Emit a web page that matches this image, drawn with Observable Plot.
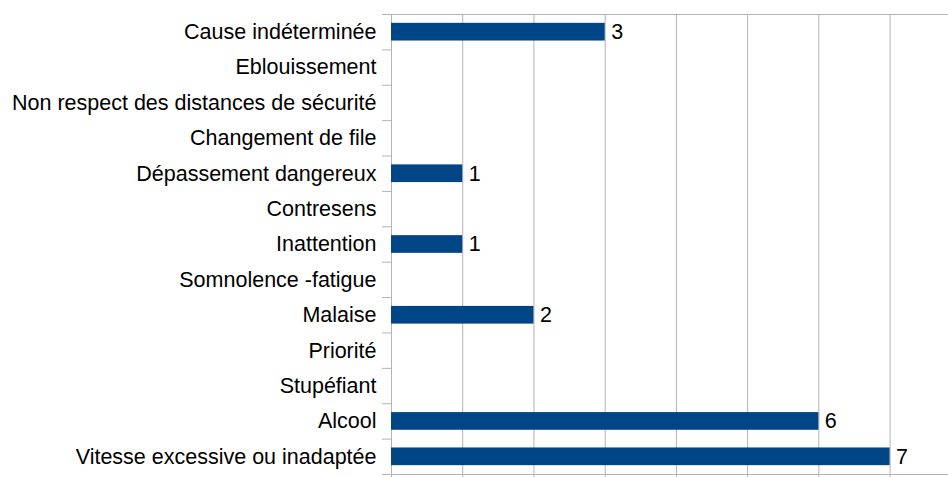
<!DOCTYPE html>
<html>
<head>
<meta charset="utf-8">
<script src="https://cdn.jsdelivr.net/npm/d3@7"></script>
<script src="https://cdn.jsdelivr.net/npm/@observablehq/plot@0.6"></script>
<style>
  html, body { margin: 0; padding: 0; background: #fff; }
  svg { display: block; font-family: "Liberation Sans", Arial, sans-serif; }
</style>
</head>
<body>
<div id="chart"></div>
<script>
const categories = ["Cause indéterminée", "Eblouissement", "Non respect des distances de sécurité", "Changement de file", "Dépassement dangereux", "Contresens", "Inattention", "Somnolence -fatigue", "Malaise", "Priorité", "Stupéfiant", "Alcool", "Vitesse excessive ou inadaptée"];
const values = [3, 0, 0, 0, 1, 0, 1, 0, 2, 0, 0, 6, 7];
const xTicks = [0, 1, 2, 3, 4, 5, 6, 7];

const data = categories.map((c, i) => ({category: c, value: values[i], i}));
const grid = "#b3b3b3";
const boundaries = d3.range(categories.length + 1);

const chart = Plot.plot({
  width: 948,
  height: 477,
  marginLeft: 391,
  marginRight: 0,
  marginTop: 14,
  marginBottom: 3,
  style: {fontFamily: "'Liberation Sans', Arial, sans-serif", color: "#000", background: "#fff"},
  x: {domain: [0, 7.82], axis: null},
  y: {domain: [0, categories.length], reverse: true, axis: null},
  marks: [
    Plot.ruleX(xTicks, {x: d => d, y1: 0, y2: categories.length, stroke: grid}),
    Plot.axisX({ticks: xTicks, tickSize: 6, tickFormat: () => "", label: null, stroke: grid}),
    Plot.ruleY([0, categories.length], {stroke: grid}),
    Plot.axisY({ticks: boundaries, tickSize: 9, tickFormat: () => "", label: null, stroke: grid}),
    Plot.axisY({ticks: categories.map((_, i) => i + 0.5), tickFormat: d => categories[Math.floor(d)], tickSize: 0, tickPadding: 15, fontSize: 21.5, label: null, fill: "#000"}),
    Plot.rectX(data, {x1: 0, x2: "value", y1: d => d.i + 0.25, y2: d => d.i + 0.75, fill: "#004586"}),
    Plot.text(data.filter(d => d.value > 0), {x: "value", y: d => d.i + 0.5, text: d => String(d.value), dx: 6, textAnchor: "start", fontSize: 21.5, fill: "#000"})
  ]
});
document.getElementById("chart").appendChild(chart);
</script>
</body>
</html>
